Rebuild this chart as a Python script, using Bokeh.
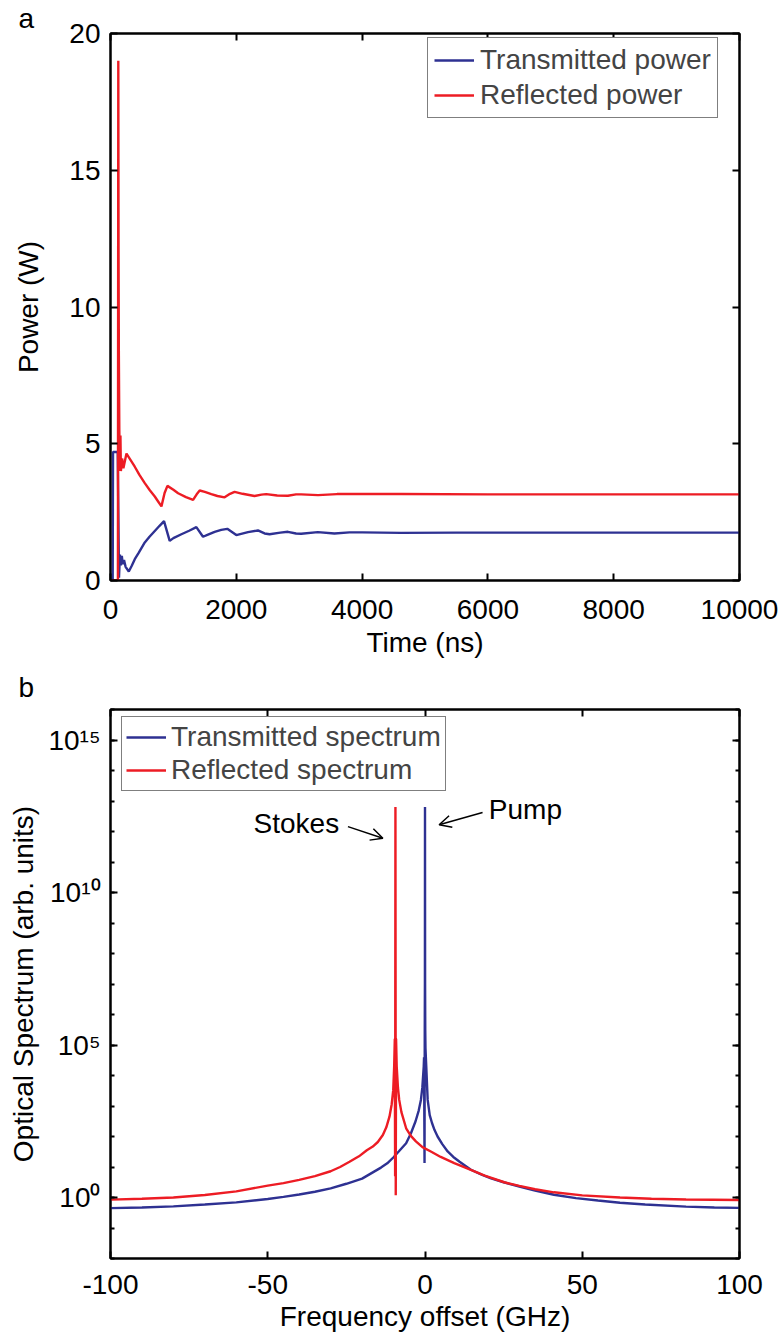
from bokeh.plotting import figure
from bokeh.layouts import column
from bokeh.models import (Legend, LegendItem, LinearAxis, LogAxis, FixedTicker,
                          Range1d, Label, Arrow, OpenHead)
from bokeh.embed import file_html
from bokeh.resources import INLINE

FONT = "Liberation Sans"
BLUE = "#2E3192"
RED = "#ED1C24"
FS = "28px"

# ---------------- Panel a: power vs time ----------------
time_tx_ns = [0, 35, 40, 115, 135, 150, 165, 180, 195, 215, 240, 291, 340, 386, 450, 545, 620,
              704, 780, 851, 941, 1000, 1127, 1250, 1365, 1471, 1550, 1656, 1760, 1857, 2000,
              2186, 2344, 2450, 2529, 2700, 2820, 2950, 3032, 3296, 3560, 3800, 4000, 4619,
              5500, 7000, 8500, 10000]
power_tx_w = [0, 0, 4.7, 4.7, 0.1, 0.95, 0.55, 0.9, 0.6, 0.75, 0.5, 0.33, 0.55, 0.78, 1.02, 1.39,
              1.6, 1.81, 2.0, 2.17, 1.45, 1.55, 1.69, 1.82, 1.95, 1.6, 1.68, 1.78, 1.85, 1.89,
              1.66, 1.77, 1.83, 1.72, 1.69, 1.75, 1.78, 1.72, 1.71, 1.77, 1.72, 1.76, 1.76,
              1.74, 1.75, 1.75, 1.75, 1.75]

time_rf_ns = [0, 118, 124, 128, 133, 140, 150, 158, 165, 185, 205, 254, 320, 386, 460, 545, 625,
              704, 760, 810, 860, 905, 1000, 1075, 1200, 1313, 1370, 1418, 1500, 1603, 1700,
              1814, 1900, 1973, 2100, 2290, 2400, 2476, 2650, 2820, 2950, 3032, 3300, 3600,
              4619, 6000, 8000, 10000]
power_rf_w = [0, 0, 19.0, 12.0, 8.2, 5.5, 4.0, 5.3, 4.0, 4.46, 4.1, 4.64, 4.4, 4.16, 3.86, 3.56,
              3.3, 3.07, 2.88, 2.71, 3.2, 3.46, 3.32, 3.19, 3.05, 2.95, 3.15, 3.29, 3.24, 3.16,
              3.09, 3.04, 3.17, 3.24, 3.17, 3.09, 3.14, 3.16, 3.11, 3.1, 3.15, 3.15, 3.12, 3.16,
              3.16, 3.15, 3.15, 3.15]

x_ticks_a = [0, 2000, 4000, 6000, 8000, 10000]
y_ticks_a = [0, 5, 10, 15, 20]

# ---------------- Panel b: optical spectra ----------------
freq_tx_ghz = [-100, -90, -80, -70, -60, -50, -45, -40, -35, -30, -25, -20, -17, -14, -12, -10,
               -8, -6, -4.5, -3, -2, -1.3, -0.85, -0.4, -0.3, -0.15, -0.08, -0.03, 0, 0.03,
               0.08, 0.15, 0.4, 0.85, 1.5, 2.2, 3, 4, 5.5, 7.2, 9, 11, 14.6, 18, 21, 25, 30,
               35, 41, 48, 55, 62, 70, 83, 92, 100]
spec_tx_log10 = [-0.35, -0.33, -0.29, -0.23, -0.16, -0.05, 0.02, 0.1, 0.19, 0.3, 0.45, 0.62, 0.8,
                 0.98, 1.12, 1.32, 1.55, 1.78, 2.1, 2.5, 2.85, 3.2, 3.6, 4.3, 4.6, 1.13, 5.5,
                 7.0, 12.8, 7.0, 5.5, 4.9, 4.3, 3.2, 2.7, 2.45, 2.22, 2.0, 1.75, 1.51, 1.33,
                 1.17, 0.91, 0.75, 0.63, 0.5, 0.36, 0.23, 0.09, -0.02, -0.1, -0.17, -0.23,
                 -0.3, -0.33, -0.34]

freq_rf_ghz = [-100, -90, -80, -70, -60, -50, -45, -40, -35, -30, -27, -24, -21, -18.5, -16.6,
               -15, -13.4, -12.3, -11.3, -10.6, -10.1, -9.8, -9.6, -9.5, -9.45, -9.4, -9.35,
               -9.3, -9.2, -9.0, -8.6, -8.2, -7.5, -6.0, -4.5, -2.9, -0.8, 2, 5, 9.3, 14, 19,
               25.2, 30, 35, 41, 50, 62, 72, 83, 100]
spec_rf_log10 = [-0.07, -0.04, 0.0, 0.08, 0.2, 0.39, 0.47, 0.58, 0.7, 0.86, 1.0, 1.17, 1.35,
                 1.55, 1.67, 1.82, 2.05, 2.3, 2.65, 3.05, 3.52, 4.3, 5.2, 0.7, 6.5, 12.8, 6.5,
                 0.07, 5.2, 4.3, 3.6, 3.2, 2.8, 2.27, 2.02, 1.84, 1.65, 1.5, 1.33, 1.13, 0.93,
                 0.72, 0.5, 0.38, 0.27, 0.17, 0.07, 0.0, -0.04, -0.065, -0.08]

x_ticks_b = [-100, -50, 0, 50, 100]
x_tick_text_b = ["-100", "-50", "0", "50", "100"]
y_major_exp_b = [0, 5, 10, 15]
y_major_text_b = ["10\u2070", "10\u2075", "10\u00b9\u2070", "10\u00b9\u2075"]
y_minor_exp_b = list(range(-2, 17))


def style_axis(ax, label_size=FS):
    ax.axis_line_color = "black"
    ax.axis_line_width = 2
    ax.major_tick_in = 7
    ax.major_tick_out = 0
    ax.major_tick_line_width = 2
    ax.major_tick_line_color = "black"
    ax.minor_tick_in = 4
    ax.minor_tick_out = 0
    ax.minor_tick_line_width = 2
    ax.minor_tick_line_color = "black"
    ax.major_label_text_font = FONT
    ax.major_label_text_font_size = label_size
    ax.major_label_text_color = "black"
    ax.axis_label_text_font = FONT
    ax.axis_label_text_font_style = "normal"
    ax.axis_label_text_font_size = FS
    ax.axis_label_text_color = "black"


def style_title(p, text):
    p.title.text = text
    p.title.align = "left"
    p.title.offset = -92
    p.title.standoff = 0
    p.title.text_font = FONT
    p.title.text_font_size = "28px"
    p.title.text_font_style = "normal"
    p.title.text_color = "black"


# ---------- Figure a ----------
pa = figure(width=783, height=660, x_range=Range1d(0, 10000), y_range=Range1d(0, 20),
            output_backend="svg", toolbar_location=None,
            min_border_left=110, min_border_right=44, min_border_top=31, min_border_bottom=78)
pa.grid.visible = False
pa.outline_line_color = "black"
pa.outline_line_width = 2
style_title(pa, "a")

r_tx = pa.line(time_tx_ns, power_tx_w, line_color=BLUE, line_width=2.4)
r_rf = pa.line(time_rf_ns, power_rf_w, line_color=RED, line_width=2.4)

xa = pa.xaxis[0]
xa.ticker = FixedTicker(ticks=x_ticks_a, minor_ticks=[])
xa.axis_label = "Time (ns)"
style_axis(xa)
xa.major_label_standoff = 19
xa.axis_label_standoff = 5

ya = pa.yaxis[0]
ya.ticker = FixedTicker(ticks=y_ticks_a, minor_ticks=[])
ya.axis_label = "Power (W)"
style_axis(ya)
ya.major_label_standoff = 10
ya.axis_label_standoff = 22

top_a = LinearAxis(ticker=FixedTicker(ticks=x_ticks_a, minor_ticks=[]),
                   major_label_overrides={t: "" for t in x_ticks_a})
style_axis(top_a)
pa.add_layout(top_a, "above")
right_a = LinearAxis(ticker=FixedTicker(ticks=y_ticks_a, minor_ticks=[]),
                     major_label_overrides={t: "" for t in y_ticks_a})
style_axis(right_a)
pa.add_layout(right_a, "right")

leg_a = Legend(items=[LegendItem(label="Transmitted power", renderers=[r_tx]),
                      LegendItem(label="Reflected power", renderers=[r_rf])],
               location=(317, 462), margin=0, padding=6, spacing=3,
               glyph_width=40, glyph_height=30, label_height=30, label_standoff=6,
               label_text_font=FONT, label_text_font_size=FS,
               border_line_color="black", border_line_width=1.5,
               background_fill_color="white", background_fill_alpha=1)
pa.add_layout(leg_a)

# ---------- Figure b ----------
pb = figure(width=783, height=677, x_range=Range1d(-100, 100), y_range=Range1d(1e-2, 1e16),
            y_axis_type="log", output_backend="svg", toolbar_location=None,
            min_border_left=110, min_border_right=44, min_border_top=49, min_border_bottom=79)
pb.grid.visible = False
pb.outline_line_color = "black"
pb.outline_line_width = 2
style_title(pb, "b")
pb.title.standoff = 13

spec_tx = [10.0 ** e for e in spec_tx_log10]
spec_rf = [10.0 ** e for e in spec_rf_log10]
r_stx = pb.line(freq_tx_ghz, spec_tx, line_color=BLUE, line_width=2.4)
r_srf = pb.line(freq_rf_ghz, spec_rf, line_color=RED, line_width=2.4)

y_major_b = [10.0 ** e for e in y_major_exp_b]
y_minor_b = [10.0 ** e for e in y_minor_exp_b]

xb = pb.xaxis[0]
xb.ticker = FixedTicker(ticks=x_ticks_b, minor_ticks=[])
xb.major_label_overrides = {v: t for v, t in zip(x_ticks_b, x_tick_text_b)}
xb.axis_label = "Frequency offset (GHz)"
style_axis(xb)
xb.major_label_standoff = 16
xb.axis_label_standoff = 4

yb = pb.yaxis[0]
yb.ticker = FixedTicker(ticks=y_major_b, minor_ticks=y_minor_b)
yb.major_label_overrides = {v: t for v, t in zip(y_major_b, y_major_text_b)}
yb.axis_label = "Optical Spectrum (arb. units)"
style_axis(yb)
yb.major_label_standoff = 10
yb.axis_label_standoff = 6

top_b = LinearAxis(ticker=FixedTicker(ticks=x_ticks_b, minor_ticks=[]),
                   major_label_overrides={t: "" for t in x_ticks_b})
style_axis(top_b)
pb.add_layout(top_b, "above")
right_b = LogAxis(ticker=FixedTicker(ticks=y_major_b, minor_ticks=y_minor_b),
                  major_label_overrides={v: "" for v in y_major_b})
style_axis(right_b)
pb.add_layout(right_b, "right")

leg_b = Legend(items=[LegendItem(label="Transmitted spectrum", renderers=[r_stx]),
                      LegendItem(label="Reflected spectrum", renderers=[r_srf])],
               location=(11, 467), margin=0, padding=4, spacing=1,
               glyph_width=40, glyph_height=30, label_height=30, label_standoff=5,
               label_text_font=FONT, label_text_font_size=FS,
               border_line_color="black", border_line_width=1.5,
               background_fill_color="white", background_fill_alpha=1)
pb.add_layout(leg_b)

pb.add_layout(Label(x=-27.3, y=10 ** 12.27, text="Stokes", text_font=FONT, text_font_size=FS,
                    text_align="right", text_baseline="middle", text_color="black"))
pb.add_layout(Label(x=20.3, y=10 ** 12.72, text="Pump", text_font=FONT, text_font_size=FS,
                    text_align="left", text_baseline="middle", text_color="black"))
pb.add_layout(Arrow(end=OpenHead(size=12, line_width=1.5, line_color="black"),
                    x_start=-24.5, y_start=10 ** 12.16, x_end=-13.4, y_end=10 ** 11.78,
                    line_width=1.5, line_color="black"))
pb.add_layout(Arrow(end=OpenHead(size=12, line_width=1.5, line_color="black"),
                    x_start=18.3, y_start=10 ** 12.62, x_end=4.5, y_end=10 ** 12.22,
                    line_width=1.5, line_color="black"))

layout = column(pa, pb, spacing=0)
open("out.html", "w").write(file_html(layout, INLINE))
